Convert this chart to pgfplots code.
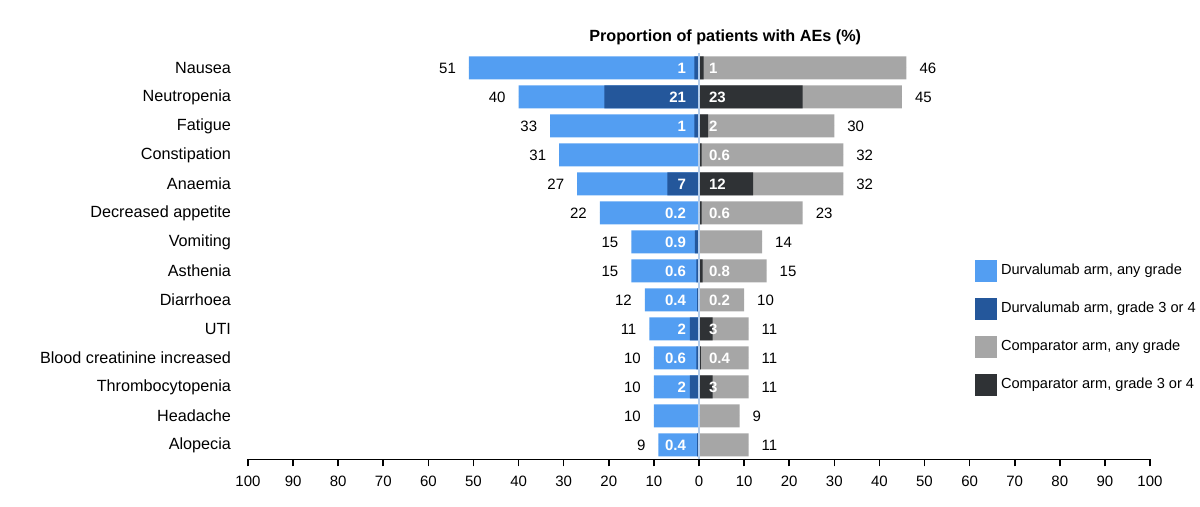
\documentclass[border=0pt]{standalone}
\usepackage{pgfplots}
\pgfplotsset{compat=1.18}
\usepackage{pgfplotstable}
\usepackage{fontspec}
\setmainfont{Liberation Sans}

\definecolor{durvany}{HTML}{539EF2}
\definecolor{durvgr}{HTML}{24579B}
\definecolor{company}{HTML}{A6A6A6}
\definecolor{compgr}{HTML}{2F3235}
\definecolor{zeroline}{HTML}{B4CDEB}

% pos: row position (Nausea at top)
% da/dg: durvalumab any grade / grade 3-4 (%)
% ca/cg: comparator any grade / grade 3-4 (%)
\pgfplotstableread{
pos da dg  ca cg
13  51 1   46 1
12  40 21  45 23
11  33 1   30 2
10  31 0   32 0.6
9   27 7   32 12
8   22 0.2 23 0.6
7   15 0.9 14 0
6   15 0.6 15 0.8
5   12 0.4 10 0.2
4   11 2   11 3
3   10 0.6 11 0.4
2   10 2   11 3
1   10 0   9  0
0   9  0.4 11 0
}\aetable

\newcommand{\valfont}{\fontsize{7.5}{9}\selectfont}

\begin{document}
\begin{tikzpicture}
\useasboundingbox (-124pt,-23.75pt) rectangle (476pt,229.75pt);
\begin{axis}[
  at={(0,0)}, anchor=south west,
  scale only axis, width=451pt, height=203pt,
  xmin=-100, xmax=100, ymin=-0.5, ymax=13.5,
  xtick={-100,-90,...,100},
  xticklabels={100,90,80,70,60,50,40,30,20,10,0,10,20,30,40,50,60,70,80,90,100},
  ytick={0,...,13},
  yticklabels={Alopecia,Headache,Thrombocytopenia,Blood creatinine increased,UTI,Diarrhoea,Asthenia,Vomiting,Decreased appetite,Anaemia,Constipation,Fatigue,Neutropenia,Nausea},
  separate axis lines,
  axis x line*=bottom, axis y line*=left,
  y axis line style={draw=none},
  x axis line style={line width=0.8pt, -},
  xtick align=outside, major tick length=3.5pt,
  xtick style={line width=0.8pt, black},
  ytick style={draw=none},
  xticklabel style={font=\valfont, yshift=-1pt},
  yticklabel style={font=\fontsize{8.1}{9.6}\selectfont, xshift=-5pt},
  title={Proportion of patients with AEs (\%)},
  title style={font=\bfseries\fontsize{8.1}{9.6}\selectfont, at={(0.529,1)}, anchor=south, yshift=-5pt},
  legend style={at={(axis cs:61.2,6.4)}, anchor=north west, draw=none, fill=none,
    inner sep=0pt, font=\fontsize{7.3}{8.5}\selectfont, row sep=8pt,
    nodes={inner sep=1.8pt}},
  legend cell align=left,
  legend image code/.code={\fill[#1,draw=none] (0pt,-5.5pt) rectangle (11pt,5.5pt);},
  clip=false,
]
% bars: durvalumab to the left, comparator to the right
\addplot[xbar, bar shift=0pt, bar width=11.5pt, fill=durvany, draw=none]
  table[x expr=-\thisrow{da}, y=pos] {\aetable};
\addlegendentry{Durvalumab arm, any grade}
\addplot[xbar, bar shift=0pt, bar width=11.5pt, fill=durvgr, draw=none]
  table[x expr=-\thisrow{dg}, y=pos] {\aetable};
\addlegendentry{Durvalumab arm, grade 3 or 4}
\addplot[xbar, bar shift=0pt, bar width=11.5pt, fill=company, draw=none]
  table[x=ca, y=pos] {\aetable};
\addlegendentry{Comparator arm, any grade}
\addplot[xbar, bar shift=0pt, bar width=11.5pt, fill=compgr, draw=none]
  table[x=cg, y=pos] {\aetable};
\addlegendentry{Comparator arm, grade 3 or 4}

% centre line
\addplot[forget plot, zeroline, line width=0.7pt] coordinates {(0,-0.5) (0,13.5)};

% any-grade values outside the bars
\addplot[forget plot, only marks, mark=*, mark size=0pt, mark options={draw=none, fill=none},
  point meta=explicit symbolic, nodes near coords,
  nodes near coords style={anchor=east, font=\valfont, xshift=-3pt}]
  table[x expr=-\thisrow{da}, y=pos, meta=da] {\aetable};
\addplot[forget plot, only marks, mark=*, mark size=0pt, mark options={draw=none, fill=none},
  point meta=explicit symbolic, nodes near coords,
  nodes near coords style={anchor=west, font=\valfont, xshift=3pt}]
  table[x=ca, y=pos, meta=ca] {\aetable};

% grade 3-4 values inside, next to the centre line
\addplot[forget plot, only marks, mark=*, mark size=0pt, mark options={draw=none, fill=none},
  point meta=explicit symbolic,
  nodes near coords={\ifdim\pgfplotspointmeta pt>0pt\relax\pgfplotspointmeta\fi},
  nodes near coords style={anchor=east, font=\valfont\bfseries, text=white, xshift=-3pt}]
  table[x expr=0, y=pos, meta=dg] {\aetable};
\addplot[forget plot, only marks, mark=*, mark size=0pt, mark options={draw=none, fill=none},
  point meta=explicit symbolic,
  nodes near coords={\ifdim\pgfplotspointmeta pt>0pt\relax\pgfplotspointmeta\fi},
  nodes near coords style={anchor=west, font=\valfont\bfseries, text=white, xshift=1.5pt}]
  table[x expr=0, y=pos, meta=cg] {\aetable};
\end{axis}
\end{tikzpicture}
\end{document}
